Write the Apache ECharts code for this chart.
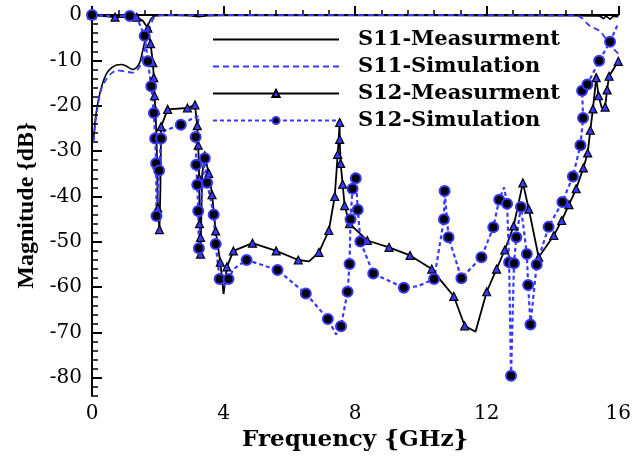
<!DOCTYPE html>
<html>
<head>
<meta charset="utf-8">
<script src="https://cdn.jsdelivr.net/npm/echarts@6/dist/echarts.min.js"></script>
<style>html,body{margin:0;padding:0;background:#fff}#c{width:634px;height:457px}</style>
</head>
<body>
<div id="c"></div>
<script>
// ---- data (frequency GHz, magnitude dB[, marker flag]) ----
var xTicks = [0, 4, 8, 12, 16];
var yTickLabels = [-80, -70, -60, -50, -40, -30, -20, -10, 0];
var seriesNames = ['S11-Measurment', 'S11-Simulation', 'S12-Measurment', 'S12-Simulation'];

var s11Meas = [[0.05,-27.5],[0.1,-23],[0.2,-18.5],[0.33,-14.9],[0.45,-12.8],[0.6,-11.6],[0.75,-11],[0.9,-10.9],[1.05,-11.3],[1.24,-12],[1.35,-11.6],[1.45,-10.5],[1.55,-7.6],[1.65,-4.2],[1.72,-2],[1.8,-0.8],[1.9,-0.2],[2.1,-0.1],[2.6,-0.1],[3.0,-0.15],[3.25,-0.35],[3.5,-0.15],[4,-0.1],[6,-0.1],[8,-0.1],[10,-0.1],[12,-0.15],[14,-0.15],[15.2,-0.2],[15.4,-0.2],[15.5,-0.5],[15.55,-0.8],[15.62,-0.3],[15.7,-0.6],[15.75,-0.9],[15.85,-0.3],[16,-0.4]];

var s11Sim = [[0.05,-28],[0.1,-24],[0.2,-19],[0.3,-16],[0.45,-14],[0.6,-12.8],[0.75,-12.2],[0.9,-12.3],[1.05,-12.5],[1.24,-12.7],[1.35,-12.3],[1.45,-11.4],[1.55,-9],[1.65,-6],[1.75,-3],[1.85,-1],[1.96,-0.2],[2.2,0],[6,0],[10,0],[14.7,-0.1],[14.9,-0.7],[15.1,-2.2],[15.3,-3],[15.45,-3.6],[15.6,-5],[15.75,-6.5],[15.9,-7.8],[16,-8.5]];

var s12Meas = [[0,0,1],[0.7,-0.45,1],[1.0,-0.4,0],[1.36,-0.5,1],[1.55,-1.3,0],[1.7,-2.9,1],[1.78,-6.3,1],[1.85,-10.5,1],[1.88,-13.8,1],[1.9,-17.8,1],[1.93,-21,1],[1.96,-27,1],[1.98,-33,1],[2.0,-42.5,1],[2.05,-47.3,1],[2.08,-38,0],[2.1,-24.6,1],[2.3,-20.8,1],[2.9,-20.5,1],[3.13,-19.8,1],[3.2,-24.4,1],[3.23,-28.7,1],[3.26,-36,1],[3.27,-46,1],[3.3,-49,1],[3.3,-52.7,1],[3.35,-35,0],[3.43,-31,1],[3.55,-34.9,1],[3.65,-39.6,1],[3.76,-47.6,1],[3.9,-54.5,1],[4.0,-61.5,0],[4.1,-55.5,1],[4.3,-52,1],[4.88,-50.3,1],[5.6,-52,1],[6.27,-54,1],[6.6,-54.3,0],[6.9,-52.3,1],[7.2,-47.5,1],[7.38,-40,1],[7.47,-30.7,1],[7.53,-23.7,1],[7.53,-27.4,1],[7.56,-32.7,1],[7.62,-37.3,1],[7.68,-42,1],[7.83,-46,1],[8.37,-49.7,1],[9.03,-51.2,1],[9.67,-53,1],[10.33,-56,1],[10.6,-58.5,0],[11.0,-62,1],[11.33,-68.5,1],[11.66,-69.8,0],[12.0,-61,1],[12.3,-56,1],[12.55,-51.8,1],[12.82,-46.5,1],[13.1,-37,1],[13.28,-42.8,1],[13.58,-53.4,1],[14.04,-48.6,1],[14.28,-45.3,1],[14.5,-41.8,1],[14.72,-38.3,1],[14.94,-33.7,1],[15.07,-30.4,1],[15.15,-25.4,1],[15.23,-20.7,1],[15.33,-13.8,1],[15.4,-17.8,1],[15.5,-20.5,0],[15.6,-20.3,1],[15.66,-16.5,1],[15.72,-13.5,1],[16,-10.2,1]];

var s12Sim = [[0,0,1],[0.5,-0.2,0],[1.15,-0.2,1],[1.4,-1.2,0],[1.6,-4.6,1],[1.7,-10.2,1],[1.8,-15.7,1],[1.88,-21.6,1],[1.92,-27.2,1],[1.95,-32.7,1],[1.96,-44.3,1],[2.04,-34.3,1],[2.1,-27.2,1],[2.2,-25.5,0],[2.7,-24.2,1],[3.1,-22.6,0],[3.25,-22.3,0],[3.15,-26.9,1],[3.17,-33,1],[3.2,-37.4,1],[3.23,-43.2,1],[3.25,-51.4,1],[3.33,-40,0],[3.43,-31.6,1],[3.5,-37,1],[3.6,-40.5,0],[3.7,-44,1],[3.76,-50.5,1],[3.88,-58.2,1],[4.0,-59.8,0],[4.15,-58.2,1],[4.3,-56,0],[4.7,-54,1],[5.64,-56.2,1],[6.5,-61.4,1],[7.17,-67,1],[7.42,-70.4,0],[7.57,-68.6,1],[7.77,-61,1],[7.83,-54.9,1],[7.86,-45,1],[7.92,-38.3,1],[7.98,-34.5,0],[8.02,-36,1],[8.08,-42.9,1],[8.16,-49.9,1],[8.55,-57,1],[9.48,-60.1,1],[9.9,-59.8,0],[10.4,-58.2,1],[10.7,-45,1],[10.72,-38.8,1],[10.84,-49,1],[11.23,-58,1],[11.84,-53.4,1],[12.2,-46.8,1],[12.38,-40.7,1],[12.53,-38,0],[12.62,-41.6,1],[12.68,-54.5,1],[12.74,-79.5,1],[12.83,-54.7,1],[12.9,-49,1],[13.04,-42.3,1],[13.22,-52.7,1],[13.26,-59.5,1],[13.33,-68.2,1],[13.52,-55,1],[13.88,-46.7,1],[14.3,-41.2,1],[14.62,-35.6,1],[14.85,-28.7,1],[14.93,-22.7,1],[14.9,-16.7,1],[15.06,-15.3,1],[15.42,-10.1,1],[15.75,-5.9,1],[16,-1.8,0]];

// ---- build ----
var BLUE = '#3838ff';
function marked(arr) {
  return arr.map(function (p) {
    var it = { value: [p[0], p[1]] };
    if (!p[2]) it.symbol = 'none';
    return it;
  });
}
var serifTick = { fontFamily: 'DejaVu Serif', fontSize: 20, color: '#000' };

var chart = echarts.init(document.getElementById('c'), null, { renderer: 'canvas' });
chart.setOption({
  animation: false,
  backgroundColor: '#fff',
  grid: { left: 92, right: 11, top: 15, bottom: 57, containLabel: false },
  legend: {
    orient: 'vertical', left: 207, top: 21,
    itemWidth: 126, itemHeight: 9, itemGap: 0,
    data: [
      { name: seriesNames[0], itemStyle: { opacity: 0 } },
      { name: seriesNames[1], itemStyle: { opacity: 0 } },
      { name: seriesNames[2] },
      { name: seriesNames[3], itemStyle: { color: '#000', borderColor: BLUE, borderWidth: 2 } }
    ],
    textStyle: { fontFamily: 'DejaVu Serif', fontWeight: 'bold', fontSize: 21, color: '#000', lineHeight: 27, padding: [0, 0, 0, 14] }
  },
  xAxis: {
    type: 'value', min: xTicks[0], max: xTicks[xTicks.length - 1], interval: 4,
    name: 'Frequency {GHz}', nameLocation: 'middle', nameGap: 24,
    nameTextStyle: { fontFamily: 'DejaVu Serif', fontWeight: 'bold', fontSize: 23, color: '#000' },
    axisLine: { lineStyle: { color: '#000', width: 2 } },
    axisTick: { inside: true, length: 9, lineStyle: { color: '#000', width: 2 } },
    minorTick: { show: true, splitNumber: 5, length: 5, lineStyle: { color: '#000', width: 1.5 } },
    axisLabel: Object.assign({ margin: 8 }, serifTick),
    splitLine: { show: false }
  },
  yAxis: [{
    type: 'value', min: -84, max: 0,
    name: 'Magnitude {dB}', nameLocation: 'middle', nameGap: 50, nameRotate: 90,
    nameTextStyle: { fontFamily: 'Liberation Serif', fontWeight: 'bold', fontSize: 24, color: '#000' },
    axisLine: { show: true, lineStyle: { color: '#000', width: 2 } },
    axisTick: { show: true, inside: true, length: 10, customValues: yTickLabels, lineStyle: { color: '#000', width: 2 } },
    axisLabel: Object.assign({ margin: 10, customValues: yTickLabels }, serifTick),
    splitLine: { show: false }
  }, {
    type: 'value', min: -84, max: 0, interval: 2, position: 'left', offset: 0,
    axisLine: { show: false },
    axisTick: { show: true, inside: true, length: 6, lineStyle: { color: '#000', width: 1.5 } },
    axisLabel: { show: false },
    splitLine: { show: false }
  }],
  series: [{
    name: seriesNames[0], type: 'line', data: s11Meas, showSymbol: false, symbol: 'none', smooth: 0.3,
    lineStyle: { color: '#000', width: 1.6 }, itemStyle: { color: '#000' }
  }, {
    name: seriesNames[1], type: 'line', data: s11Sim, showSymbol: false, symbol: 'none', smooth: 0.3,
    lineStyle: { color: BLUE, width: 1.8, type: [6, 4] }, itemStyle: { color: BLUE }
  }, {
    name: seriesNames[2], type: 'line', data: marked(s12Meas), symbol: 'triangle', symbolSize: 8, showAllSymbol: true,
    lineStyle: { color: '#000', width: 1.8 },
    itemStyle: { color: BLUE, borderColor: '#000', borderWidth: 1.2 }
  }, {
    name: seriesNames[3], type: 'line', data: marked(s12Sim), symbol: 'circle', symbolSize: 10, showAllSymbol: true,
    lineStyle: { color: BLUE, width: 2.2, type: [4, 3] },
    itemStyle: { color: '#000', borderColor: BLUE, borderWidth: 2 }
  }]
});
</script>
</body>
</html>
